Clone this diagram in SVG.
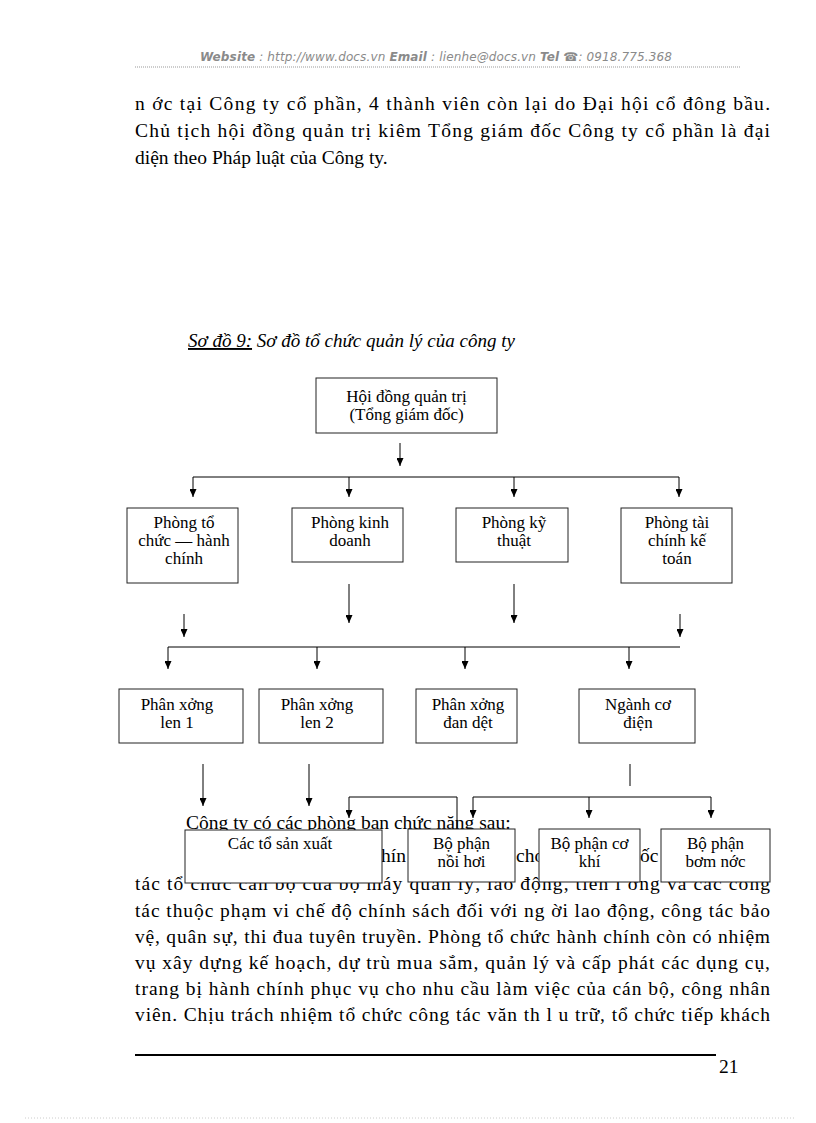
<svg xmlns="http://www.w3.org/2000/svg" width="816" height="1123" viewBox="0 0 816 1123">
<style>
.hdr{font-family:"DejaVu Sans",Verdana,sans-serif;font-size:12px;font-style:italic;fill:#8a8a8a}
.hb{font-weight:bold}
.p{font-family:"Liberation Serif","Times New Roman",serif;font-size:19.5px;fill:#000}
.cap{font-family:"Liberation Serif","Times New Roman",serif;font-size:19px;font-style:italic;fill:#000}
.bx{fill:#fff;stroke:#222;stroke-width:1}
.t{font-family:"Liberation Serif","Times New Roman",serif;font-size:17px;fill:#000;text-anchor:middle}
.c{fill:none;stroke:#000;stroke-width:1}
.a{fill:none;stroke:#000;stroke-width:1;marker-end:url(#ah)}
</style>
<defs>
<marker id="ah" markerWidth="8" markerHeight="7" refX="8" refY="3.5" orient="auto" markerUnits="userSpaceOnUse" viewBox="0 0 8 7">
<path d="M0,0 L8,3.5 L0,7 Z" fill="#000"/>
</marker>
</defs>
<rect width="816" height="1123" fill="#fff"/>
<g id="header">
<text class="hdr" x="200" y="61" textLength="472" lengthAdjust="spacing"><tspan class="hb">Website</tspan> : http://www.docs.vn  <tspan class="hb">Email</tspan>  : lienhe@docs.vn   <tspan class="hb">Tel</tspan> ☎: 0918.775.368</text>
<line x1="135" y1="67" x2="740" y2="67" stroke="#999" stroke-width="1" stroke-dasharray="1,1"/>
</g>
<g id="para-top">
<text class="p" x="135" y="110" textLength="635" lengthAdjust="spacing">n  ớc tại Công ty cổ phần, 4 thành viên còn lại do Đại hội cổ đông bầu.</text>
<text class="p" x="135" y="137" textLength="635" lengthAdjust="spacing">Chủ tịch hội đồng quản trị kiêm Tổng giám đốc Công ty cổ phần là đại</text>
<text class="p" x="135" y="164">diện theo Pháp luật của Công ty.</text>
</g>
<g id="caption">
<text class="cap" x="188" y="347" textLength="327" lengthAdjust="spacingAndGlyphs"><tspan text-decoration="underline">Sơ đồ 9:</tspan> Sơ đồ tổ chức quản lý của công ty</text>
</g>
<g id="para-under">
<text class="p" x="186" y="829">Công ty có các phòng ban chức năng sau:</text>
<text class="p" x="381" y="862">hín</text>
<text class="p" x="516" y="862">cho</text>
<text class="p" x="640" y="862">ốc</text>
<text class="p" x="135" y="890" textLength="635" lengthAdjust="spacing">tác tổ chức cán bộ của bộ máy quản lý, lao động, tiền l ơng và các công</text>
</g>
<g id="connectors">
<line class="a" x1="400" y1="443" x2="400" y2="466"/>
<line class="c" x1="193" y1="477" x2="679" y2="477"/>
<line class="a" x1="193" y1="477" x2="193" y2="497"/>
<line class="a" x1="349" y1="477" x2="349" y2="497"/>
<line class="a" x1="514" y1="477" x2="514" y2="497"/>
<line class="a" x1="679" y1="477" x2="679" y2="497"/>
<line class="a" x1="349" y1="584" x2="349" y2="623"/>
<line class="a" x1="514" y1="584" x2="514" y2="623"/>
<line class="a" x1="184" y1="614" x2="184" y2="637"/>
<line class="a" x1="680" y1="614" x2="680" y2="637"/>
<line class="c" x1="168" y1="647" x2="680" y2="647"/>
<line class="a" x1="168" y1="647" x2="168" y2="669"/>
<line class="a" x1="317" y1="647" x2="317" y2="669"/>
<line class="a" x1="465" y1="647" x2="465" y2="669"/>
<line class="a" x1="629" y1="647" x2="629" y2="669"/>
<line class="a" x1="203" y1="764" x2="203" y2="806"/>
<line class="a" x1="309" y1="764" x2="309" y2="806"/>
<line class="c" x1="630" y1="764" x2="630" y2="786"/>
<path class="a" d="M457,829 V797 H349 V818"/>
<line class="c" x1="473" y1="797" x2="711" y2="797"/>
<line class="a" x1="473" y1="797" x2="473" y2="818"/>
<line class="a" x1="589" y1="797" x2="589" y2="818"/>
<line class="a" x1="711" y1="797" x2="711" y2="818"/>
</g>
<g id="n-hdqt"><rect class="bx" x="316" y="378" width="181" height="55"/><text class="t" x="406.5" y="402">Hội đồng quản trị</text><text class="t" x="406.5" y="420">(Tổng giám đốc)</text></g>
<g id="n-tchc"><rect class="bx" x="127" y="508" width="111" height="75"/><text class="t" x="184" y="528">Phòng tổ</text><text class="t" x="184" y="546">chức — hành</text><text class="t" x="184" y="564">chính</text></g>
<g id="n-kd"><rect class="bx" x="292" y="508" width="111" height="54"/><text class="t" x="350" y="528">Phòng kinh</text><text class="t" x="350" y="546">doanh</text></g>
<g id="n-kt"><rect class="bx" x="456" y="508" width="112" height="54"/><text class="t" x="514" y="528">Phòng kỹ</text><text class="t" x="514" y="546">thuật</text></g>
<g id="n-tckt"><rect class="bx" x="621" y="508" width="111" height="75"/><text class="t" x="677" y="528">Phòng tài</text><text class="t" x="677" y="546">chính kế</text><text class="t" x="677" y="564">toán</text></g>
<g id="n-px1"><rect class="bx" x="119" y="689" width="124" height="54"/><text class="t" x="177" y="710">Phân xởng</text><text class="t" x="177" y="728">len 1</text></g>
<g id="n-px2"><rect class="bx" x="259" y="689" width="124" height="54"/><text class="t" x="317" y="710">Phân xởng</text><text class="t" x="317" y="728">len 2</text></g>
<g id="n-pxdd"><rect class="bx" x="416" y="689" width="101" height="54"/><text class="t" x="468" y="710">Phân xởng</text><text class="t" x="468" y="728">đan dệt</text></g>
<g id="n-nce"><rect class="bx" x="579" y="689" width="116" height="54"/><text class="t" x="638" y="710">Ngành cơ</text><text class="t" x="638" y="728">điện</text></g>
<g id="n-tsx"><rect class="bx" x="185" y="830" width="197" height="53"/><text class="t" x="280" y="849">Các tổ sản xuất</text></g>
<g id="n-nh"><rect class="bx" x="408" y="829" width="107" height="53"/><text class="t" x="461.5" y="849">Bộ phận</text><text class="t" x="461.5" y="867">nồi hơi</text></g>
<g id="n-ck"><rect class="bx" x="539" y="829" width="101" height="53"/><text class="t" x="589.5" y="849">Bộ phận cơ</text><text class="t" x="589.5" y="867">khí</text></g>
<g id="n-bn"><rect class="bx" x="661" y="829" width="109" height="53"/><text class="t" x="715.5" y="849">Bộ phận</text><text class="t" x="715.5" y="867">bơm nớc</text></g>
<g id="para-bottom">
<text class="p" x="135" y="917" textLength="635" lengthAdjust="spacing">tác thuộc phạm vi chế độ chính sách đối với ng ời lao động, công tác bảo</text>
<text class="p" x="135" y="943" textLength="635" lengthAdjust="spacing">vệ, quân sự, thi đua tuyên truyền. Phòng tổ chức hành chính còn có nhiệm</text>
<text class="p" x="135" y="969" textLength="635" lengthAdjust="spacing">vụ xây dựng kế hoạch, dự trù mua sắm, quản lý và cấp phát các dụng cụ,</text>
<text class="p" x="135" y="995" textLength="635" lengthAdjust="spacing">trang bị hành chính phục vụ cho nhu cầu làm việc của cán bộ, công nhân</text>
<text class="p" x="135" y="1021" textLength="635" lengthAdjust="spacing">viên. Chịu trách nhiệm tổ chức công tác văn th   l u trữ, tổ chức tiếp khách</text>
</g>
<g id="footer">
<line x1="135" y1="1055" x2="716" y2="1055" stroke="#000" stroke-width="2"/>
<text class="p" x="719" y="1073">21</text>
<line x1="25" y1="1118" x2="795" y2="1118" stroke="#ccc" stroke-width="1" stroke-dasharray="1,2"/>
</g>
</svg>
